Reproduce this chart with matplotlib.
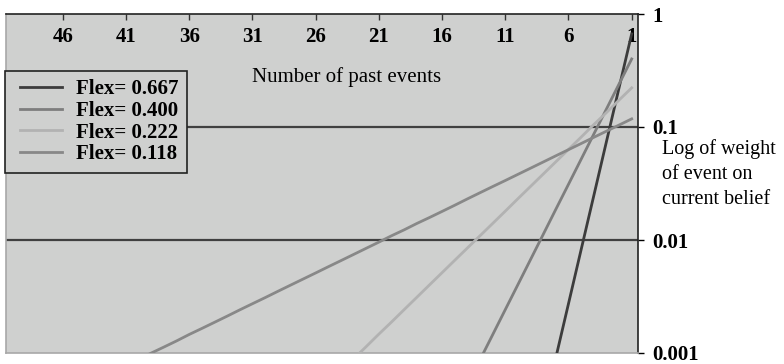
import numpy as np
import matplotlib.pyplot as plt
from matplotlib.legend_handler import HandlerLine2D

# weights, event 1 = most recent
flex_labels = ['Flex= 0.667', 'Flex= 0.400', 'Flex= 0.222', 'Flex= 0.118']
w_667 = [0.667, 0.222, 0.0740, 0.0246, 0.00821, 0.00273, 0.00091]
w_400 = [0.400, 0.240, 0.144, 0.0864, 0.0518, 0.0311, 0.0187, 0.0112,
         0.00672, 0.00403, 0.00242, 0.00145, 0.00087]
w_222 = [0.222, 0.173, 0.134, 0.105, 0.0813, 0.0633, 0.0492, 0.0383,
         0.0298, 0.0232, 0.0180, 0.0140, 0.0109, 0.00849, 0.00661,
         0.00514, 0.00400, 0.00311, 0.00242, 0.00188, 0.00147, 0.00114,
         0.000887]
w_118 = [0.118, 0.104, 0.0918, 0.0810, 0.0714, 0.0630, 0.0556, 0.0490,
         0.0432, 0.0381, 0.0336, 0.0297, 0.0262, 0.0231, 0.0203, 0.0179,
         0.0158, 0.0140, 0.0123, 0.0109, 0.00958, 0.00845, 0.00745,
         0.00657, 0.00580, 0.00511, 0.00451, 0.00398, 0.00351, 0.00309,
         0.00273, 0.00241, 0.00212, 0.00187, 0.00165, 0.00146, 0.00128,
         0.00113, 0.00100, 0.000881]
x_ticks = [46, 41, 36, 31, 26, 21, 16, 11, 6, 1]
y_ticks = [1, 0.1, 0.01, 0.001]
y_tick_labels = ['1', '0.1', '0.01', '0.001']

colors = ['#3c3c3c', '#7e7e7e', '#b2b2b2', '#888888']
series = [w_667, w_400, w_222, w_118]


class InsetLine(HandlerLine2D):
    # legend line that leaves a gap on its left, like the original
    def create_artists(self, legend, orig_handle, xdescent, ydescent,
                       width, height, fontsize, trans):
        gap = 0.14 * width
        arts = super().create_artists(legend, orig_handle, xdescent - gap,
                                      ydescent, width - gap, height,
                                      fontsize, trans)
        return arts


plt.rcParams['font.family'] = ['Liberation Serif', 'DejaVu Serif']

fig = plt.figure(figsize=(7.84, 3.64), dpi=100)
ax = fig.add_axes([6 / 784, 11 / 364, 632 / 784, 339 / 364])
ax.set_facecolor('#cfd0cf')

handles = []
for vals, c, lab in zip(series, colors, flex_labels):
    n = np.arange(1, len(vals) + 1)
    h, = ax.plot(n, vals, color=c, lw=2, label=lab, zorder=3)
    handles.append(h)

for g in [0.1, 0.01]:
    ax.axhline(g, color='#404040', lw=1.6, zorder=2)

ax.set_yscale('log')
ax.set_xlim(50.5, 0.5)
ax.set_ylim(0.001, 1)

# category labels sit inside the plot, under the top edge
ax.xaxis.tick_top()
ax.set_xticks(x_ticks)
ax.set_xticklabels([str(t) for t in x_ticks], fontsize=15, fontweight='bold')
ax.tick_params(axis='x', direction='in', length=4, width=1, pad=-24,
               color='#333333')

ax.yaxis.tick_right()
ax.set_yticks(y_ticks)
ax.set_yticklabels(y_tick_labels, fontsize=15, fontweight='bold')
ax.minorticks_off()
ax.tick_params(axis='y', which='both', direction='out', length=4, width=1, pad=6)

for s in ['top', 'right']:
    ax.spines[s].set_color('#222222')
    ax.spines[s].set_linewidth(1.2)
for s in ['left', 'bottom']:
    ax.spines[s].set_color('#a8a8a8')
    ax.spines[s].set_linewidth(1.2)

fig.text(347 / 784, 1 - 77 / 364, 'Number of past events', fontsize=15,
         ha='center', va='center')
fig.text(662 / 784, 1 - 174 / 364, 'Log of weight\nof event on\ncurrent belief',
         fontsize=14.5, ha='left', va='center', linespacing=1.42)

leg = ax.legend(handles=handles, loc='upper left',
                bbox_to_anchor=(-1 / 632, 1 - 57 / 339), frameon=True,
                fancybox=False, edgecolor='#222222', facecolor='#cfd0cf',
                framealpha=1, prop={'size': 15, 'weight': 'bold'},
                handlelength=2.34, handletextpad=0.67, labelspacing=0.08,
                borderpad=0.4, borderaxespad=0,
                handler_map={h: InsetLine() for h in handles})
leg.get_frame().set_linewidth(1.2)
leg.set_zorder(5)

fig.savefig('out.png', dpi=100)
